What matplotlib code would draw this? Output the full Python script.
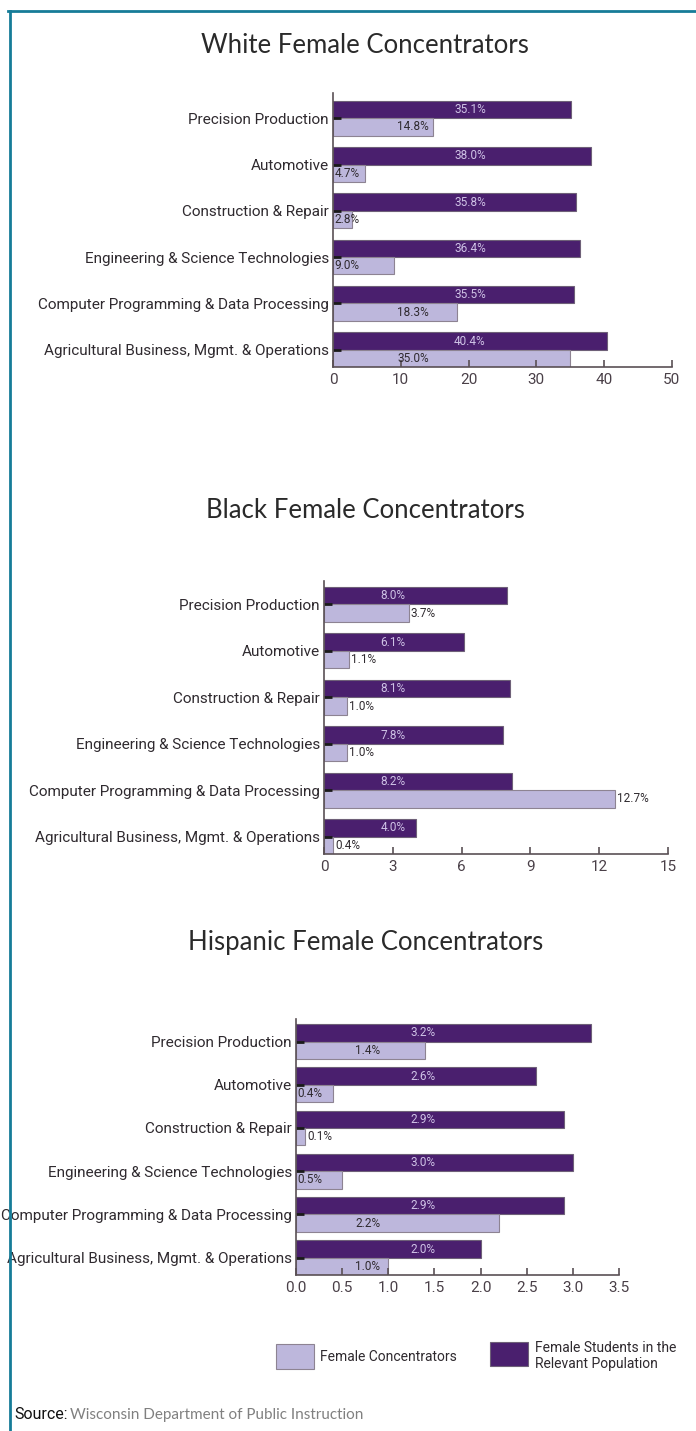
import numpy as np
import matplotlib.pyplot as plt
from matplotlib.patches import Rectangle
from matplotlib.lines import Line2D

# categories, top to bottom
programs = ['Precision Production', 'Automotive', 'Construction & Repair',
            'Engineering & Science Technologies',
            'Computer Programming & Data Processing',
            'Agricultural Business, Mgmt. & Operations']

# percent of female students in the relevant population
white_pop = [35.1, 38.0, 35.8, 36.4, 35.5, 40.4]
black_pop = [8.0, 6.1, 8.1, 7.8, 8.2, 4.0]
hisp_pop = [3.2, 2.6, 2.9, 3.0, 2.9, 2.0]

# percent of female concentrators
white_conc = [14.8, 4.7, 2.8, 9.0, 18.3, 35.0]
black_conc = [3.7, 1.1, 1.0, 1.0, 12.7, 0.4]
hisp_conc = [1.4, 0.4, 0.1, 0.5, 2.2, 1.0]

white_ticks = [0, 10, 20, 30, 40, 50]
black_ticks = [0, 3, 6, 9, 12, 15]
hisp_ticks = [0.0, 0.5, 1.0, 1.5, 2.0, 2.5, 3.0, 3.5]

DARK = '#4a1f6e'
DARK_EDGE = '#6e6078'
LIGHT = '#bdb7dc'
LIGHT_EDGE = '#8d8392'
TEXT = '#2f2a2f'
NARROW = ['Roboto', 'DejaVu Sans']
THIN = ['Lato', 'DejaVu Sans']

fig = plt.figure(figsize=(6.96, 14.31), dpi=100)
fig.patch.set_facecolor('white')


def panel(rect, title, title_y, pop, conc, ticks, fmt, pop_lab_x,
          conc_mid_x, conc_min, bar_h, top_pad, outside_only=False):
    ax = fig.add_axes(rect)
    y = np.arange(len(programs))
    ax.barh(y - bar_h / 2, pop, height=bar_h, color=DARK,
            edgecolor=DARK_EDGE, linewidth=0.8)
    ax.barh(y + bar_h / 2, conc, height=bar_h, color=LIGHT,
            edgecolor=LIGHT_EDGE, linewidth=0.8)

    for yi, v in zip(y, pop):
        ax.text(pop_lab_x, yi - bar_h / 2, f'{v:.1f}%', ha='center',
                va='center', fontsize=8.5, color='#cfc3e6', family=NARROW)

    xmax = ticks[-1]
    for yi, v in zip(y, conc):
        lab = f'{v:.1f}%'
        if not outside_only and v >= conc_min:
            ax.text(conc_mid_x, yi + bar_h / 2, lab, ha='center',
                    va='center', fontsize=8.5, color=TEXT, family=NARROW)
        elif not outside_only and v / xmax > 0.03:
            ax.text(xmax * 0.004, yi + bar_h / 2, lab, ha='left',
                    va='center', fontsize=8.5, color=TEXT, family=NARROW)
        else:
            ax.annotate(lab, (v, yi + bar_h / 2), xytext=(1.5, 0),
                        textcoords='offset points', ha='left', va='center',
                        fontsize=8.5, color=TEXT, family=NARROW)

    ax.set_xlim(ticks[0], ticks[-1])
    ax.set_ylim(len(programs) - 1 + bar_h, -bar_h - top_pad)
    ax.set_xticks(ticks)
    ax.set_xticklabels([fmt.format(t) for t in ticks], fontsize=11,
                       color='#4a4048', family=NARROW)
    ax.set_yticks(y)
    ax.set_yticklabels(programs, fontsize=11, color=TEXT, family=NARROW)
    ax.tick_params(axis='x', direction='in', length=5, width=1.2,
                   color='#5a5055', pad=4)
    ax.tick_params(axis='y', direction='in', length=6, width=2,
                   color='#1a1a1a', pad=3)
    for s in ['top', 'right']:
        ax.spines[s].set_visible(False)
    for s in ['left', 'bottom']:
        ax.spines[s].set_color('#5a5055')
        ax.spines[s].set_linewidth(1.2)
    ax.set_facecolor('none')

    fig.text(0.525, title_y, title, ha='center', va='center', fontsize=18.5,
             family=THIN, color='#2a2a2a')
    return ax


panel([0.4784, 0.7435, 0.487, 0.1915], 'White Female Concentrators', 0.9685,
      white_pop, white_conc, white_ticks, '{:d}', 20.2, 11.8, 12, 0.375, 0.17)
panel([0.4655, 0.4032, 0.4943, 0.1908], 'Black Female Concentrators', 0.643,
      black_pop, black_conc, black_ticks, '{:d}', 3.0, 0, 0, 0.375, 0.13,
      outside_only=True)
panel([0.4253, 0.1090, 0.464, 0.1789], 'Hispanic Female Concentrators', 0.3417,
      hisp_pop, hisp_conc, hisp_ticks, '{:.1f}', 1.38, 0.78, 1.0, 0.4, 0.12)

# legend swatches
fig.patches.append(Rectangle((0.3966, 0.0433), 0.0545, 0.0175,
                             transform=fig.transFigure, facecolor=LIGHT,
                             edgecolor=LIGHT_EDGE, linewidth=0.8))
fig.patches.append(Rectangle((0.704, 0.0454), 0.0546, 0.0168,
                             transform=fig.transFigure, facecolor=DARK,
                             edgecolor=DARK_EDGE, linewidth=0.8))
fig.text(0.46, 0.0517, 'Female Concentrators', ha='left', va='center',
         fontsize=10, color=TEXT, family=NARROW)
fig.text(0.7687, 0.0524, 'Female Students in the\nRelevant Population',
         ha='left', va='center', fontsize=10, color=TEXT, family=NARROW,
         linespacing=1.1)

# source line
fig.text(0.02, 0.0112, 'Source:', ha='left', va='center', fontsize=11.5,
         color='#111111', family=NARROW)
fig.text(0.1, 0.0112, 'Wisconsin Department of Public Instruction',
         ha='left', va='center', fontsize=11, color='#808080', family=THIN)

# teal frame on top and left
fig.lines.append(Line2D([0.0115, 1.0], [0.9923, 0.9923],
                        transform=fig.transFigure, color='#167c98', lw=2))
fig.lines.append(Line2D([0.0137, 0.0137], [0.0, 0.9923],
                        transform=fig.transFigure, color='#167c98', lw=2))

fig.savefig('out.png', dpi=100)
